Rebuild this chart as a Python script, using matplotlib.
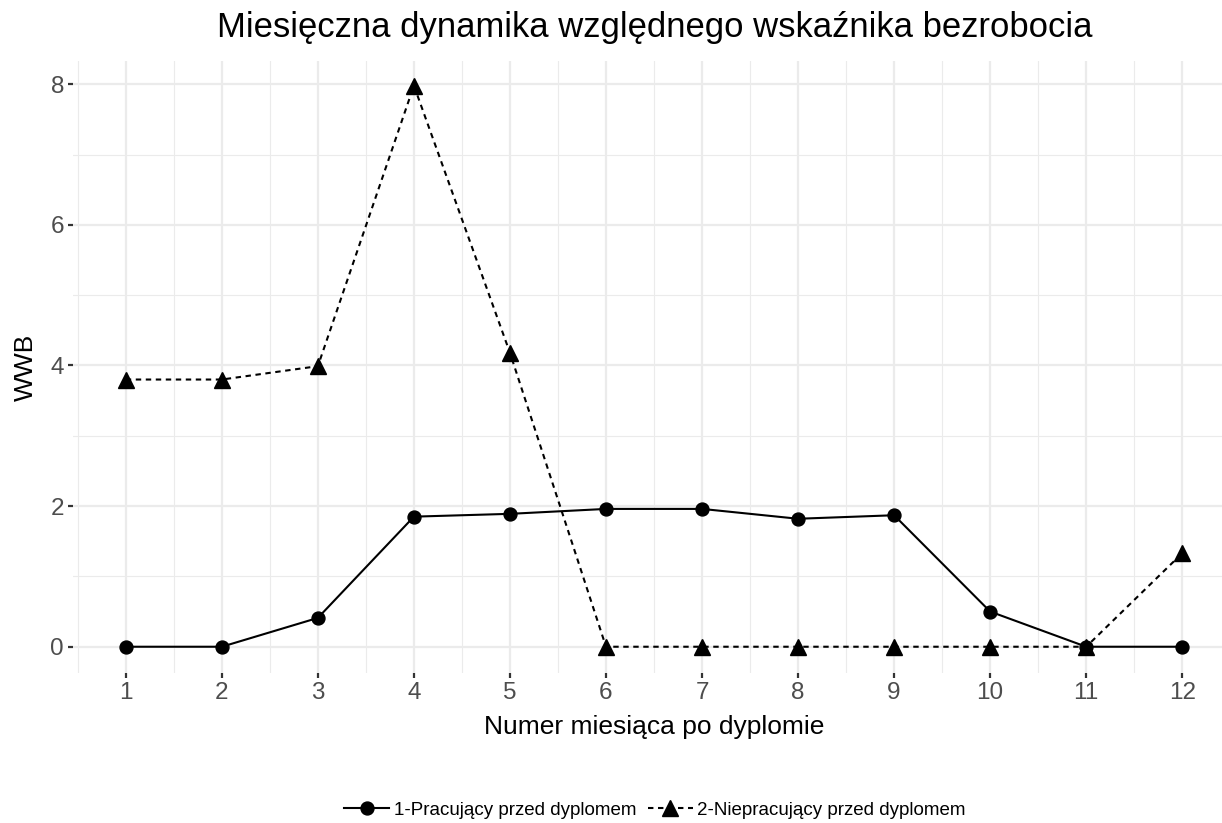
import matplotlib
matplotlib.use('Agg')
import matplotlib.pyplot as plt
from matplotlib.ticker import MultipleLocator

plt.rcParams['font.family'] = ['Liberation Sans', 'DejaVu Sans']

# Data
months = [1, 2, 3, 4, 5, 6, 7, 8, 9, 10, 11, 12]
wwb_pracujacy = [0.0, 0.0, 0.41, 1.85, 1.89, 1.96, 1.96, 1.82, 1.87, 0.50, 0.0, 0.0]
wwb_niepracujacy = [3.8, 3.8, 3.99, 7.98, 4.18, 0.0, 0.0, 0.0, 0.0, 0.0, 0.0, 1.33]
series_labels = ['1-Pracujący przed dyplomem', '2-Niepracujący przed dyplomem']
y_ticks = [0, 2, 4, 6, 8]

fig = plt.figure(figsize=(12.22, 8.23), dpi=100)
ax = fig.add_axes([0.0597, 0.1823, 0.951, 0.7436])

ax.plot(months, wwb_pracujacy, color='black', linewidth=1.5, marker='o',
        markersize=9.3, label=series_labels[0])
ax.plot(months, wwb_niepracujacy, color='black', linewidth=1.5, marker='^',
        markersize=11, linestyle=(0, (2.6, 2.2)), label=series_labels[1])

ax.set_xlim(0.45, 12.55)
ax.set_ylim(-0.373, 8.33)
ax.set_xticks(months)
ax.set_yticks(y_ticks)
ax.xaxis.set_minor_locator(MultipleLocator(0.5))
ax.yaxis.set_minor_locator(MultipleLocator(1))

ax.grid(True, which='major', color='#EBEBEB', linewidth=1.6)
ax.grid(True, which='minor', color='#EBEBEB', linewidth=0.8)
ax.set_axisbelow(True)
for s in ax.spines.values():
    s.set_visible(False)

ax.tick_params(which='major', length=3.5, width=1.6, color='#333333',
               labelcolor='#4D4D4D', labelsize=17.5, pad=3)
ax.tick_params(which='minor', length=0)

ax.set_xlabel('Numer miesiąca po dyplomie', fontsize=19, labelpad=8)
ax.set_ylabel('WWB', fontsize=19, labelpad=9)
fig.text(0.536, 1 - 37 / 823, 'Miesięczna dynamika względnego wskaźnika bezrobocia',
         ha='center', va='baseline', fontsize=24.9)

fig.legend(loc='center', bbox_to_anchor=(0.536, 1 - 810 / 823), ncol=2,
           frameon=False, fontsize=13.5, handlelength=2.4, markerscale=1.0,
           columnspacing=0.6, handletextpad=0.25, borderaxespad=0, borderpad=0)

fig.savefig('out.png', dpi=100)
